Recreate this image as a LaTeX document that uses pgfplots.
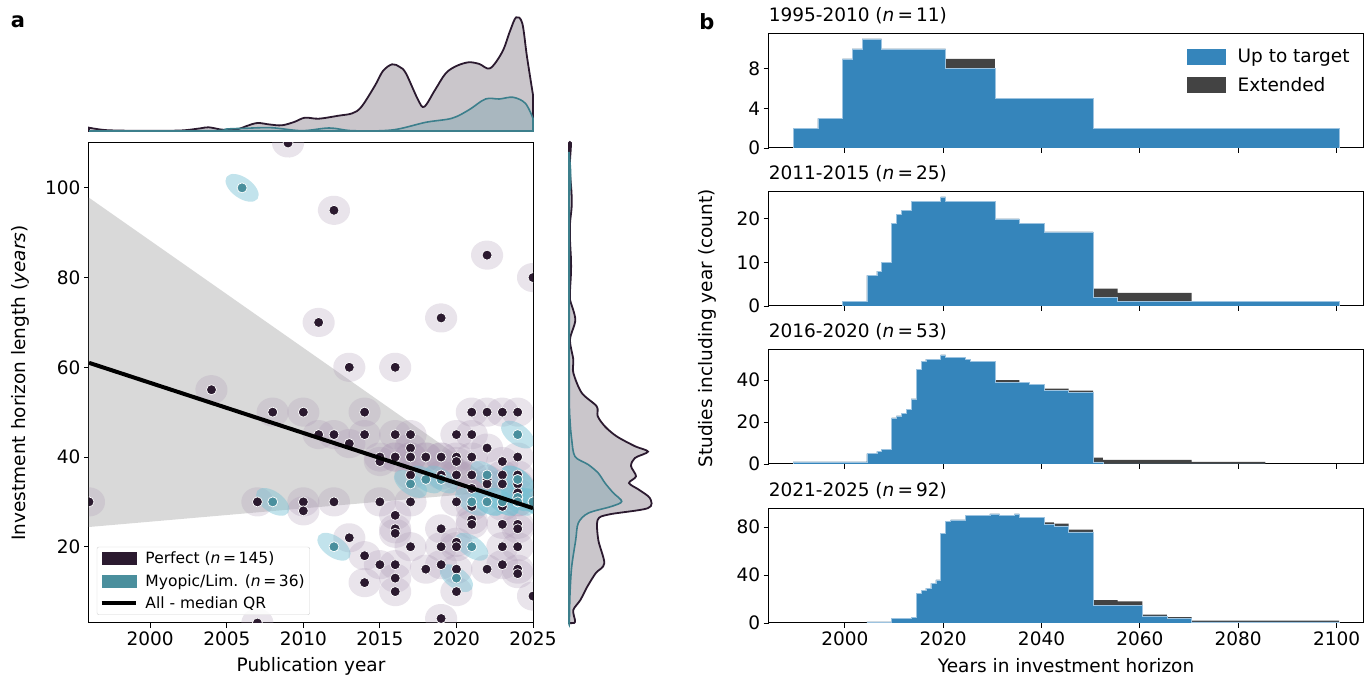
\documentclass[border=0pt]{standalone}
\usepackage{fontspec}
\setmainfont{DejaVu Sans}
\usepackage{pgfplots}
\usepackage{pgfplotstable}
\pgfplotsset{compat=1.18}

\definecolor{perf}{HTML}{2B1A2F}
\definecolor{myop}{HTML}{4A8F9D}
\definecolor{myopline}{HTML}{3C7F8C}
\definecolor{blobP}{HTML}{AE9BB6}
\definecolor{blobT}{HTML}{78C2D4}
\definecolor{bandgray}{HTML}{D9D9D9}
\definecolor{histblue}{HTML}{3585BB}
\definecolor{histedge}{HTML}{9CC3E0}
\definecolor{histext}{HTML}{434343}

% density blobs drawn under each study
\pgfdeclareplotmark{pblob}{\pgfpathellipse{\pgfpointorigin}{\pgfqpoint{16pt}{-1.5pt}}{\pgfqpoint{1.5pt}{14.5pt}}\pgfusepathqfill}
\pgfdeclareplotmark{tblob}{\pgfpathellipse{\pgfpointorigin}{\pgfqpoint{15.5pt}{-11pt}}{\pgfqpoint{6pt}{8.5pt}}\pgfusepathqfill}

\newcommand{\tfont}{\fontsize{18.5}{21}\selectfont}

\pgfplotsset{
  base/.style={
    scale only axis, tick align=outside, major tick length=5pt,
    every tick/.style={black, line width=0.9pt},
    axis line style={line width=1pt},
    xtick pos=left, ytick pos=left,
    tick label style={font=\tfont},
    label style={font=\tfont},
    /pgf/number format/assume math mode=true,
    /pgf/number format/1000 sep={},
    scaled ticks=false,
  },
  hist/.style={
    base, width=595pt, height=114.5pt, xmin=1984.5, xmax=2105.5, ymin=0,
    xtick={2000,2020,...,2100},
    title style={at={(axis description cs:0,1)}, anchor=south west, inner sep=0pt, yshift=3pt, font=\tfont},
  },
}

% publication year vs horizon length
\pgfplotstableread{
x y
1996 30
2004 55
2007 30
2007 3
2008 50
2009 110
2010 50
2010 30
2010 28
2011 70
2011 45
2012 95
2012 45
2012 30
2013 60
2013 43
2013 22
2014 50
2014 45
2014 18
2014 12
2015 40
2015 39
2015 30
2015 16
2016 60
2016 45
2016 40
2016 27
2016 24
2016 23
2016 16
2016 13
2016 10
2017 45
2017 42
2017 40
2017 36
2017 30
2017 20
2018 40
2018 15
2019 71
2019 40
2019 36
2019 24
2019 20
2019 16
2019 4
2020 45
2020 40
2020 39
2020 36
2020 30
2020 21
2020 20
2020 15
2020 10
2021 50
2021 45
2021 40
2021 36
2021 33
2021 29
2021 26
2021 25
2022 85
2022 50
2022 42
2022 35
2022 34
2022 15
2023 50
2023 39
2023 36
2023 34
2023 29
2023 25
2023 20
2023 16
2024 50
2024 40
2024 36
2024 34
2024 32
2024 30
2024 25
2024 24
2024 20
2024 15
2024 14
2025 80
2025 9
2016 40
2017 40
2018 40
2019 40
2024 30
}\perfpts

\pgfplotstableread{
x y
2006 100
2008 30
2012 20
2017 34
2018 35
2019 35
2020 13
2021 20
2021 30
2022 36
2022 30
2023 30
2024 45
2024 35
2024 31
2025 30
2022 30
2023 30
2024 31
2024 30
2025 30
2024 35
}\myoppts

% studies including each year: left edge, up to target, with extension
\pgfplotstableread{
e blue tot
1989.5 2 2
1994.5 3 3
1999.5 9 9
2001.5 10 10
2003.5 11 11
2007.5 10 10
2020.5 8 9
2030.5 5 5
2050.5 2 2
2100.5 2 2
}\histA

\pgfplotstableread{
e blue tot
1999.5 1 1
2004.5 7 7
2006.5 8 8
2007.5 10 10
2009.5 19 19
2010.5 21 21
2011.5 22 22
2013.5 24 24
2019.5 25 25
2020.5 24 24
2030.5 20 20
2035.5 19 19
2040.5 17 17
2050.5 2 4
2055.5 1 3
2070.5 1 1
2100.5 1 1
}\histB

\pgfplotstableread{
e blue tot
1989.5 1 1
2004.5 5 5
2006.5 6 6
2007.5 7 7
2009.5 22 22
2010.5 23 23
2011.5 24 24
2012.5 26 26
2013.5 31 31
2014.5 45 45
2015.5 49 49
2016.5 50 50
2019.5 52 52
2020.5 51 51
2024.5 50 50
2025.5 49 49
2030.5 39 40
2035.5 39 39
2037.5 38 38
2040.5 35 36
2045.5 34 35
2050.5 1 3
2052.5 0 2
2070.5 0 1
2085.5 0 1
}\histC

\pgfplotstableread{
e blue tot
2004.5 1 1
2009.5 4 4
2013.5 5 5
2014.5 25 25
2015.5 27 27
2016.5 29 29
2017.5 33 33
2018.5 36 36
2019.5 75 75
2020.5 85 85
2021.5 86 86
2024.5 90 90
2029.5 91 91
2031.5 90 90
2034.5 91 91
2035.5 88 88
2040.5 82 84
2042.5 81 83
2045.5 76 78
2050.5 15 19
2055.5 15 18
2060.5 6 7
2065.5 4 5
2070.5 1 2
2100.5 1 2
}\histD

\newcommand{\histbars}[1]{%
  \addplot[const plot, fill=histext, draw=none, forget plot] table[x=e, y=tot] {#1} \closedcycle;
  \addplot[const plot, fill=histblue, draw=histedge, line width=0.5pt, forget plot] table[x=e, y=blue] {#1} \closedcycle;
}

\begin{document}
\begin{tikzpicture}
\useasboundingbox (0,0) rectangle (1365pt,680pt);

% ---------------- panel a: scatter ----------------
\begin{axis}[base, at={(89pt,57pt)}, anchor=south west, width=444pt, height=480pt,
  xmin=1996, xmax=2025, ymin=3, ymax=110,
  xtick={2000,2005,...,2025}, ytick={20,40,...,100},
  clip marker paths=true,
  xlabel={Publication year},
  ylabel={Investment horizon length (\textit{years})},
  xlabel style={at={(axis description cs:0.5,-0.0896)}, anchor=center},
  ylabel style={at={(axis description cs:-0.1554,0.5)}, anchor=center},
  legend cell align=left,
  legend style={at={(axis description cs:0.0175,0.0167)}, anchor=south west,
    draw=black!18, rounded corners=2pt, fill=white, fill opacity=0.85, text opacity=1,
    font=\fontsize{15.5}{18}\selectfont, row sep=5pt, inner sep=3pt,
    /tikz/every odd column/.append style={column sep=6pt}},
]
% confidence band of the median regression
\addplot[fill=bandgray, draw=none, forget plot] coordinates {(1996,97.8) (2025,28.5) (2025,33) (1996,24.4)} -- cycle;
% density shading
\addplot[only marks, mark=pblob, mark options={fill=blobP, draw=none, fill opacity=0.27}, forget plot] table {\perfpts};
\addplot[only marks, mark=tblob, mark options={fill=blobT, draw=none, fill opacity=0.45}, forget plot] table {\myoppts};
% studies
\addplot[only marks, mark=*, mark size=5pt, mark options={fill=perf, draw=white, line width=0.7pt}, forget plot] table {\perfpts};
\addplot[only marks, mark=*, mark size=5pt, mark options={fill=myop, draw=white, line width=0.7pt}, forget plot] table {\myoppts};
% median quantile regression
\addplot[black, line width=4pt, forget plot] coordinates {(1996,61) (2025,28.6)};

\addlegendimage{legend image code/.code={\fill[perf, sharp corners, fill opacity=1] (0pt,-6pt) rectangle (34pt,6pt);}}
\addlegendentry{Perfect (\textit{n}\,=\,145)}
\addlegendimage{legend image code/.code={\fill[myop, sharp corners, fill opacity=1] (0pt,-6pt) rectangle (34pt,6pt);}}
\addlegendentry{Myopic/Lim. (\textit{n}\,=\,36)}
\addlegendimage{legend image code/.code={\draw[black, line width=3.5pt, sharp corners, draw opacity=1] (0pt,0pt) -- (34pt,0pt);}}
\addlegendentry{All - median QR}
\end{axis}

% ---------------- top marginal: publication year density ----------------
\begin{axis}[scale only axis, at={(89pt,549pt)}, anchor=south west, width=444pt, height=123pt,
  xmin=1996, xmax=2025, ymin=0, ymax=123, hide axis, clip=false]
\addplot[smooth, tension=0.55, fill=perf, fill opacity=0.25, draw=perf, line width=1.8pt] coordinates {
(1996,3.3) (1997,1) (1998.5,0.3) (2000,0.3) (2002,0.5) (2003.2,2.5) (2003.8,3.7) (2004.6,1.5)
(2005,1) (2005.7,1.7) (2006.3,5) (2007,8) (2007.8,6.5) (2008.6,5.7) (2009.4,9) (2010.1,13.3)
(2011,12.3) (2012.3,15.3) (2013.2,17.7) (2013.8,24.3) (2014.7,46) (2015.2,60) (2015.8,66.7)
(2016.3,64) (2016.7,57.7) (2017.5,31) (2017.9,24.3) (2018.6,41) (2019.3,57.7) (2020,65)
(2020.8,68.7) (2021.5,67) (2022.2,62.7) (2023,79.3) (2023.5,100) (2023.9,113.7) (2024.3,107.7)
(2024.6,75) (2025,36)} \closedcycle;
\addplot[smooth, tension=0.55, fill=myop, fill opacity=0.25, draw=myopline, line width=1.6pt] coordinates {
(1996,0) (2004,0.3) (2005,2) (2006.2,2.7) (2007.9,3.3) (2009.9,0.3) (2011.7,3) (2013.2,0.3)
(2015.8,1) (2018,8.7) (2019.7,12.7) (2020.8,21) (2021.9,32) (2022.8,32) (2023.7,33.7)
(2024.5,27.7) (2025,12.7)} \closedcycle;
\end{axis}

% ---------------- right marginal: horizon length density ----------------
\begin{axis}[scale only axis, at={(569pt,57pt)}, anchor=south west, width=83pt, height=480pt,
  xmin=0, xmax=83, ymin=3, ymax=110, hide axis, clip=false]
\addplot[smooth, tension=0.5, fill=perf, fill opacity=0.25, draw=perf, line width=1.8pt] coordinates {
(0,110) (2,110) (1,106) (1,103.4) (2.5,99) (2.7,95.9) (1,92) (1,88.5) (2,84) (2,81.1) (1,77)
(1,75.1) (6.3,70.6) (1,66.2) (4.3,61.7) (4.3,58.8) (12.7,54.3) (27.7,51.3) (28.7,49.1) (36,46.8)
(47.7,44.6) (66,42.4) (79,41.2) (66,39.8) (62,38) (67,35.7) (60,34.2) (70,32.7) (81,30.8)
(79,28.6) (40,27.2) (28.7,26) (29.3,21.5) (35.3,16.3) (26.7,14.1) (18.3,11.1) (11.3,8.1)
(4.3,5.9) (6,3.6) (5,3) (0,3)} -- cycle;
\addplot[smooth, tension=0.5, fill=myop, fill opacity=0.25, draw=myopline, line width=1.6pt] coordinates {
(0,108) (1.5,104) (1.5,100) (0.3,96) (0.3,55) (1,48.3) (2.7,43.9) (6,40.1) (19.3,38.3)
(29.3,36.4) (36,34.2) (44.3,32) (52.7,30.1) (42.7,29) (19.3,27.5) (9.3,25.3) (6.7,21.5)
(2.7,15.6) (1,9.6) (0.3,3) (0,3)} -- cycle;
\end{axis}

% ---------------- panel b: histograms ----------------
\begin{axis}[hist, at={(768.6pt,532pt)}, anchor=south west, ymax=11.55, ytick={0,4,8},
  xticklabels={}, title={1995-2010 (\textit{n}\,=\,11)},
  legend cell align=left,
  legend style={at={(axis description cs:0.985,0.9)}, anchor=north east, draw=none, fill=none,
    font=\tfont, row sep=9pt, /tikz/every odd column/.append style={column sep=10pt}}]
\histbars{\histA}
\addlegendimage{legend image code/.code={\fill[histblue] (0pt,-7.5pt) rectangle (38pt,7.5pt);}}
\addlegendentry{Up to target}
\addlegendimage{legend image code/.code={\fill[histext] (0pt,-7.5pt) rectangle (38pt,7.5pt);}}
\addlegendentry{Extended}
\end{axis}

\begin{axis}[hist, at={(768.6pt,374pt)}, anchor=south west, ymax=26.25, ytick={0,10,20},
  xticklabels={}, title={2011-2015 (\textit{n}\,=\,25)}]
\histbars{\histB}
\end{axis}

\begin{axis}[hist, at={(768.6pt,216pt)}, anchor=south west, ymax=54.6, ytick={0,20,40},
  xticklabels={}, title={2016-2020 (\textit{n}\,=\,53)}]
\histbars{\histC}
\end{axis}

\begin{axis}[hist, at={(768.6pt,57pt)}, anchor=south west, ymax=95.55, ytick={0,40,80},
  title={2021-2025 (\textit{n}\,=\,92)},
  xlabel={Years in investment horizon},
  xlabel style={at={(axis description cs:0.5,-0.3755)}, anchor=center}]
\histbars{\histD}
\end{axis}

\node[rotate=90, font=\tfont] at (707pt,351.5pt) {Studies including year (count)};
\node[font=\fontsize{21}{24}\selectfont\bfseries] at (18pt,658pt) {a};
\node[font=\fontsize{21}{24}\selectfont\bfseries] at (707pt,658pt) {b};
\end{tikzpicture}
\end{document}
